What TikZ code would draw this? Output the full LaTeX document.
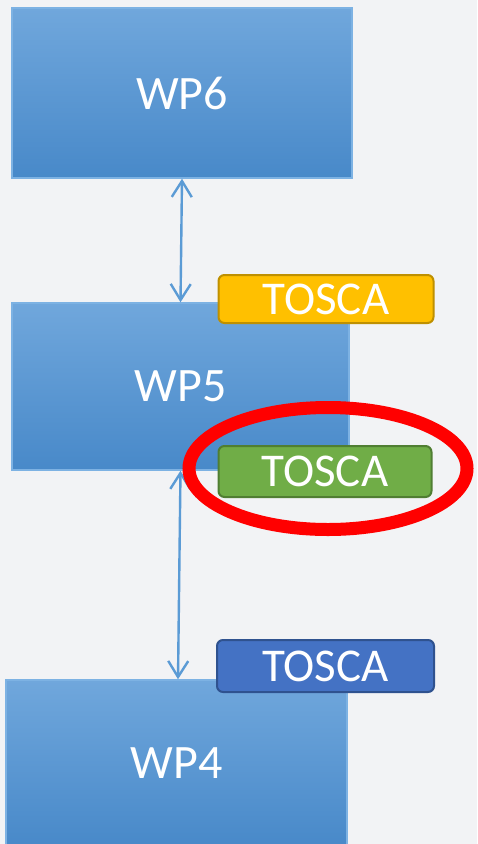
\documentclass[tikz,border=0pt]{standalone}
\usepackage{fontspec}
\setmainfont{Carlito}
\usepackage{xcolor}
\usetikzlibrary{arrows.meta}

\definecolor{bgGrey}{HTML}{F2F3F5}
\definecolor{wpTop}{HTML}{70A7DC}
\definecolor{wpBot}{HTML}{4889C9}
\definecolor{wpLine}{HTML}{7DB2E3}
\definecolor{linkBlue}{HTML}{5B9BD5}
\definecolor{toscaYellow}{HTML}{FFC000}
\definecolor{toscaYellowLine}{HTML}{BF9000}
\definecolor{toscaGreen}{HTML}{70AD47}
\definecolor{toscaGreenLine}{HTML}{507E32}
\definecolor{toscaBlue}{HTML}{4472C4}
\definecolor{toscaBlueLine}{HTML}{2F528F}
\definecolor{markRed}{HTML}{FF0000}

\begin{document}
\begin{tikzpicture}[x=1pt, y=-1pt, >={Straight Barb[length=16pt, width=20pt]},
    wpbox/.style={draw=wpLine, line width=1.5pt, top color=wpTop, bottom color=wpBot,
        text=white, font=\fontsize{48}{54}\selectfont, inner sep=0pt},
    toscabox/.style={rounded corners=6pt, line width=2pt, text=white,
        font=\fontsize{47}{52}\selectfont, inner sep=0pt, minimum width=215pt},
    link/.style={<->, draw=linkBlue, line width=2.4pt}]
        \useasboundingbox (0,0) rectangle (477,844);
        \clip (0,0) rectangle (477,844);
        \fill[bgGrey] (0,0) rectangle (477,844);
        \node[wpbox, minimum width=340pt, minimum height=170pt] (wpsix) at (182,93)
            {WP6};
        \node[wpbox, minimum width=337pt, minimum height=167pt] (wpfive) at (180.5,386.5)
            {WP5};
        \node[wpbox, minimum width=341pt, minimum height=166pt] (wpfour) at (176.5,763)
            {WP4};
        \node[toscabox, fill=toscaYellow, draw=toscaYellowLine, minimum height=48pt] (toscayellow) at (326,299)
            {TOSCA};
        \node[toscabox, fill=toscaGreen, draw=toscaGreenLine, minimum height=51pt, minimum width=213pt] (toscagreen) at (325,471.5)
            {TOSCA};
        \node[toscabox, fill=toscaBlue, draw=toscaBlueLine, minimum height=52pt, minimum width=217pt] (toscablue) at (325.5,666)
            {TOSCA};
        \draw[link] (wpsix.south) -- (wpfive.north);
        \draw[link] (wpfive.south) -- ([xshift=1.5pt]wpfour.north);
        \draw[markRed, line width=13pt] (toscagreen.center) ++(3,-3) ellipse [x radius=139, y radius=61];
    \end{tikzpicture}
\end{document}
